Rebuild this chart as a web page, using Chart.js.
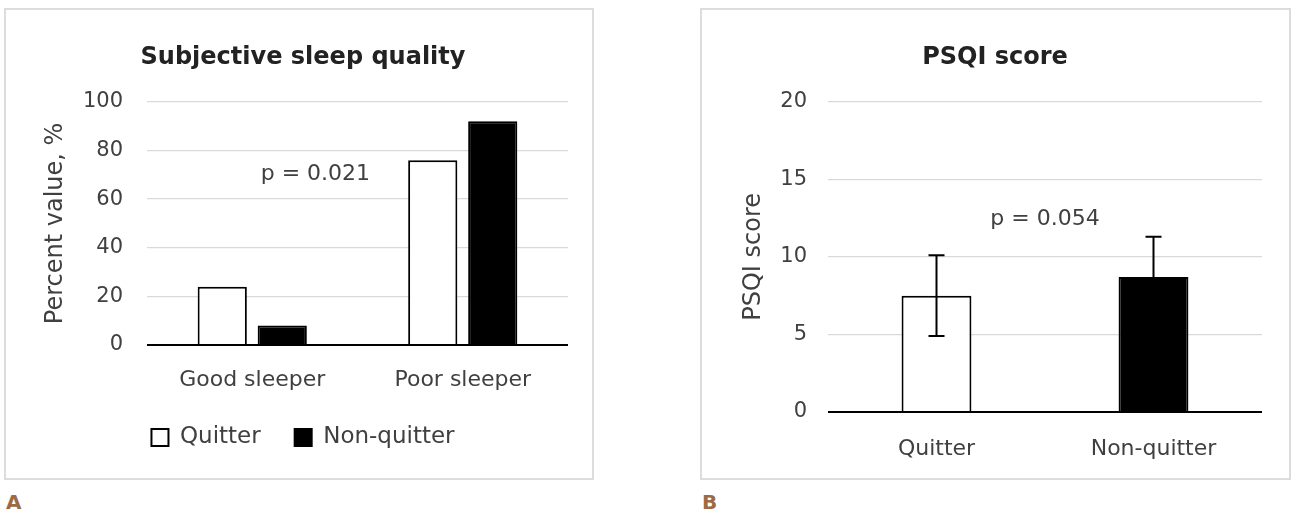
<!DOCTYPE html>
<html>
<head>
<meta charset="utf-8">
<script src="https://cdn.jsdelivr.net/npm/chart.js@4.4.1/dist/chart.umd.min.js"></script>
<style>
  body { margin: 0; background: #fff; width: 1293px; height: 518px; position: relative; overflow: hidden; }
  .panel { position: absolute; top: 8px; height: 472px; border: 2px solid #dcdcdc; box-sizing: border-box; }
  .tag { position: absolute; top: 490px; font: bold 20px "DejaVu Sans", sans-serif; color: #9c6b43; }
</style>
</head>
<body>
<div class="panel" style="left:4px; width:590px;"><canvas id="chartA" width="586" height="468"></canvas></div>
<div class="panel" style="left:700px; width:591px;"><canvas id="chartB" width="587" height="468"></canvas></div>
<div class="tag" style="left:6px;">A</div>
<div class="tag" style="left:702px;">B</div>
<script>
// panel A data
const categoriesA = ["Good sleeper", "Poor sleeper"];
const quitterA = [24, 76];
const nonQuitterA = [8, 92];
const yTicksA = [0, 20, 40, 60, 80, 100];

// panel B data
const categoriesB = ["Quitter", "Non-quitter"];
const psqiMean = [7.5, 8.7];
const psqiSd = [2.6, 2.6];
const yTicksB = [0, 5, 10, 15, 20];

const FONT = "DejaVu Sans";
const TXT = "#404040";

// writes the p value text at a spot given in data units
const pTextPlugin = {
     id: "pText",
     afterDatasetsDraw(chart, args, opts) {
          if (!opts.text) return;
          const ctx = chart.ctx;
          const x = chart.scales.x.getPixelForValue(opts.at[0]);
          const y = chart.scales.y.getPixelForValue(opts.at[1]);
          ctx.save();
          ctx.font = "22px " + FONT;
          ctx.fillStyle = TXT;
          ctx.textAlign = "center";
          ctx.textBaseline = "middle";
          ctx.fillText(opts.text, x, y);
          ctx.restore();
     }
};

// mean +/- sd whiskers for panel B
const errorBarPlugin = {
     id: "errBars",
     afterDatasetsDraw(chart, args, opts) {
          if (!opts.sd) return;
          const ctx = chart.ctx;
          const yScale = chart.scales.y;
          const meta = chart.getDatasetMeta(0);
          const values = chart.data.datasets[0].data;
          ctx.save();
          ctx.strokeStyle = "#000";
          ctx.lineWidth = 2;
          meta.data.forEach((bar, i) => {
               const top = yScale.getPixelForValue(values[i] + opts.sd[i]);
               const bot = yScale.getPixelForValue(values[i] - opts.sd[i]);
               ctx.beginPath();
               ctx.moveTo(bar.x, top);
               ctx.lineTo(bar.x, bot);
               ctx.moveTo(bar.x - 8, top);
               ctx.lineTo(bar.x + 8, top);
               ctx.moveTo(bar.x - 8, bot);
               ctx.lineTo(bar.x + 8, bot);
               ctx.stroke();
          });
          ctx.restore();
     }
};

function yAxis(ticks, title, width, titlePad, tickPad) {
     return {
          min: ticks[0],
          max: ticks[ticks.length - 1],
          afterBuildTicks: (scale) => { scale.ticks = ticks.map(v => ({ value: v })); },
          afterFit: (scale) => { scale.width = width; },
          border: { display: false },
          grid: {
               drawTicks: false,
               color: (c) => c.tick && c.tick.value === 0 ? "#000" : "#d9d9d9",
               lineWidth: (c) => c.tick && c.tick.value === 0 ? 2 : 1.3
          },
          ticks: { padding: tickPad, color: TXT, font: { family: FONT, size: 21 } },
          title: {
               display: true,
               text: title,
               color: TXT,
               font: { family: FONT, size: 24 },
               padding: { top: titlePad, bottom: 0 }
          }
     };
}

function xAxis(pad, height) {
     return {
          afterFit: (scale) => { scale.height = height; },
          grid: { display: false, drawTicks: false },
          border: { display: false },
          ticks: { padding: pad, maxRotation: 0, color: TXT, font: { family: FONT, size: 22 } }
     };
}

function titleOpts(text) {
     return {
          display: true,
          text: text,
          color: "#222",
          font: { family: FONT, size: 24, weight: "bold" },
          padding: { top: 33, bottom: 30 }
     };
}

new Chart(document.getElementById("chartA"), {
     type: "bar",
     data: {
          labels: categoriesA,
          datasets: [
               {
                    label: "Quitter",
                    data: quitterA,
                    backgroundColor: "#fff",
                    borderColor: "#000",
                    borderWidth: 2,
                    categoryPercentage: 0.57,
                    barPercentage: 0.82
               },
               {
                    label: "Non-quitter",
                    data: nonQuitterA,
                    backgroundColor: "#000",
                    borderColor: "#000",
                    borderWidth: 2,
                    categoryPercentage: 0.57,
                    barPercentage: 0.82
               }
          ]
     },
     options: {
          responsive: false,
          animation: false,
          layout: { padding: { left: 32, right: 24, bottom: 19 } },
          scales: {
               x: xAxis(22, 47),
               y: yAxis(yTicksA, "Percent value, %", 109, 3, 24)
          },
          plugins: {
               title: titleOpts("Subjective sleep quality"),
               legend: {
                    position: "bottom",
                    labels: {
                         boxWidth: 17,
                         boxHeight: 17,
                         padding: 34,
                         color: TXT,
                         font: { family: FONT, size: 23 }
                    }
               },
               tooltip: { enabled: false },
               pText: { text: "p = 0.021", at: [0.3, 70] }
          }
     },
     plugins: [pTextPlugin]
});

new Chart(document.getElementById("chartB"), {
     type: "bar",
     data: {
          labels: categoriesB,
          datasets: [
               {
                    label: "PSQI score",
                    data: psqiMean,
                    backgroundColor: ["#fff", "#000"],
                    borderColor: "#000",
                    borderWidth: 2,
                    categoryPercentage: 1,
                    barPercentage: 0.322
               }
          ]
     },
     options: {
          responsive: false,
          animation: false,
          layout: { padding: { left: 26, right: 27, bottom: 18 } },
          scales: {
               x: xAxis(24, 48),
               y: yAxis(yTicksB, "PSQI score", 100, 11, 21)
          },
          plugins: {
               title: titleOpts("PSQI score"),
               legend: { display: false },
               tooltip: { enabled: false },
               pText: { text: "p = 0.054", at: [0.5, 12.4] },
               errBars: { sd: psqiSd }
          }
     },
     plugins: [pTextPlugin, errorBarPlugin]
});
</script>
</body>
</html>
